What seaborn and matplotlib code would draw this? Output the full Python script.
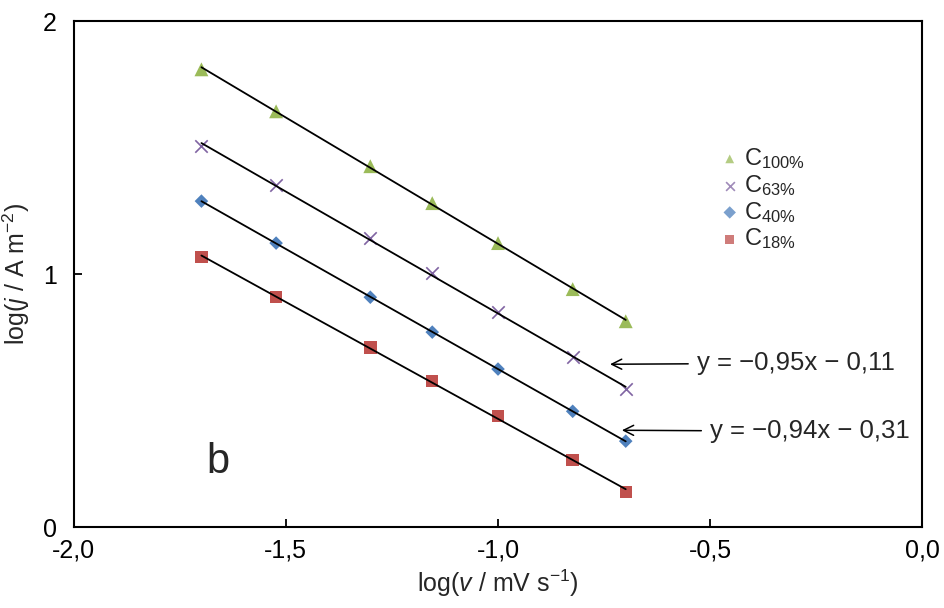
import numpy as np
import pandas as pd
import matplotlib
matplotlib.use("Agg")
import matplotlib.pyplot as plt
import seaborn as sns

# ---------------- data ----------------
log_v = [-1.699, -1.523, -1.301, -1.155, -1.000, -0.824, -0.699]
c100 = [1.810, 1.644, 1.427, 1.281, 1.123, 0.941, 0.814]
c63 = [1.506, 1.352, 1.142, 1.004, 0.850, 0.672, 0.545]
c40 = [1.289, 1.123, 0.909, 0.771, 0.625, 0.458, 0.340]
c18 = [1.067, 0.909, 0.711, 0.577, 0.439, 0.265, 0.138]
series_names = ["C100%", "C63%", "C40%", "C18%"]
legend_labels = [r"C$_{\mathrm{100\%}}$", r"C$_{\mathrm{63\%}}$",
                 r"C$_{\mathrm{40\%}}$", r"C$_{\mathrm{18\%}}$"]
x_ticks = [-2.0, -1.5, -1.0, -0.5, 0.0]
x_tick_labels = ["-2,0", "-1,5", "-1,0", "-0,5", "0,0"]
y_ticks = [0, 1, 2]
y_tick_labels = ["0", "1", "2"]
eq_labels = ["y = \u22120,95x \u2212 0,11", "y = \u22120,94x \u2212 0,31"]
panel_label = "b"

# ---------------- style ----------------
sns.set_style("white")
plt.rcParams["font.family"] = ["Liberation Sans", "DejaVu Sans"]
plt.rcParams["mathtext.fontset"] = "custom"
plt.rcParams["mathtext.rm"] = "Liberation Sans"
plt.rcParams["mathtext.it"] = "Liberation Sans:italic"
plt.rcParams["mathtext.bf"] = "Liberation Sans:bold"

colors = {"C100%": "#9BBB59", "C63%": "#8064A2", "C40%": "#4F81BD", "C18%": "#C0504D"}
markers = {"C100%": "^", "C63%": "x", "C40%": "D", "C18%": "s"}
sizes = {"C100%": 100, "C63%": 80, "C40%": 48, "C18%": 80}

df = pd.DataFrame({
    "log_v": log_v * 4,
    "log_j": c100 + c63 + c40 + c18,
    "series": np.repeat(series_names, len(log_v)),
})

fig = plt.figure(figsize=(9.45, 6.08), dpi=100)
ax = fig.add_axes([0.078, 0.133, 0.898, 0.832])

for name, lab in zip(series_names, legend_labels):
    sub = df[df["series"] == name]
    kw = dict(linewidth=1.2) if markers[name] == "x" else dict(edgecolor="none")
    sns.scatterplot(data=sub, x="log_v", y="log_j", ax=ax, marker=markers[name],
                    color=colors[name], s=sizes[name], label=lab, zorder=2, **kw)
    sns.regplot(data=sub, x="log_v", y="log_j", ax=ax, scatter=False, ci=None,
                truncate=True, color="black",
                line_kws=dict(linewidth=1.3, zorder=3))

ax.set_xlim(-2.0, 0.0)
ax.set_ylim(0, 2)
ax.set_xticks(x_ticks)
ax.set_xticklabels(x_tick_labels)
ax.set_yticks(y_ticks)
ax.set_yticklabels(y_tick_labels)
ax.tick_params(axis="both", direction="in", length=6, width=1.3, labelsize=18,
               colors="black", bottom=True, left=True, top=False, right=False)
ax.tick_params(axis="x", pad=8)
ax.tick_params(axis="y", pad=12)
for sp in ax.spines.values():
    sp.set_visible(True)
    sp.set_color("black")
    sp.set_linewidth(1.5)

ax.set_xlabel(r"log($v$ / mV s$^{\mathrm{-1}}$)", fontsize=18, labelpad=4)
ax.set_ylabel(r"log($j$ / A m$^{\mathrm{-2}}$)", fontsize=18, labelpad=8)

leg = ax.legend(loc="upper left", bbox_to_anchor=(0.748, 0.772), frameon=False,
                fontsize=17, handletextpad=0.1, labelspacing=0.08,
                handlelength=1.0, borderaxespad=0)
for h in leg.legend_handles:
    try:
        h.set_sizes([40])
        h.set_alpha(0.75)
    except Exception:
        pass

ax.annotate(eq_labels[0], xy=(-0.736, 0.644), xytext=(-0.531, 0.648),
            fontsize=18.5, ha="left", va="center",
            arrowprops=dict(arrowstyle="->", color="black", lw=1.1,
                            shrinkA=4, shrinkB=0, mutation_scale=18))
ax.annotate(eq_labels[1], xy=(-0.708, 0.383), xytext=(-0.500, 0.379),
            fontsize=18.5, ha="left", va="center",
            arrowprops=dict(arrowstyle="->", color="black", lw=1.1,
                            shrinkA=4, shrinkB=0, mutation_scale=18))
ax.text(-1.66, 0.257, panel_label, fontsize=30, ha="center", va="center")

fig.savefig("out.png", dpi=100)
